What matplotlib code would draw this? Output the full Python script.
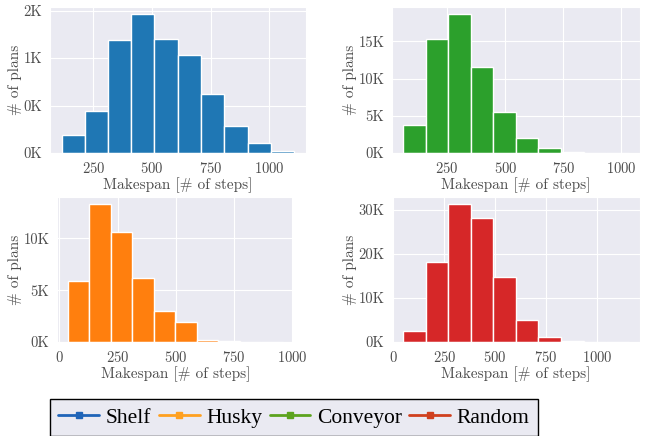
import numpy as np
import matplotlib
matplotlib.use("Agg")
import matplotlib.pyplot as plt
import seaborn as sns
from matplotlib.lines import Line2D
from matplotlib.ticker import MultipleLocator, FuncFormatter

sns.set_style("darkgrid")
plt.rcParams["font.family"] = "serif"
plt.rcParams["font.serif"] = ["cmr10"]
plt.rcParams["mathtext.fontset"] = "cm"
plt.rcParams["axes.formatter.use_mathtext"] = True
plt.rcParams["text.color"] = "0.3"
plt.rcParams["axes.labelcolor"] = "0.3"
plt.rcParams["xtick.color"] = "0.3"
plt.rcParams["ytick.color"] = "0.3"

# bin edges and counts
shelf_edges = [114, 213, 312, 411, 510, 609, 709, 808, 907, 1006, 1105]
shelf_counts = [187, 444, 1187, 1465, 1204, 1028, 627, 282, 106, 21]

conveyor_edges = [61, 158, 255, 352, 449, 546, 643, 740, 837, 934, 1031]
conveyor_counts = [3785, 15360, 18700, 11576, 5565, 2003, 668, 80, 15, 5]

husky_edges = [36, 128, 221, 313, 406, 498, 590, 683, 775, 868, 960]
husky_counts = [5847, 13355, 10671, 6134, 2971, 1949, 150, 50, 10, 5]

random_edges = [49, 160, 270, 381, 492, 602, 713, 824, 935, 1045, 1156]
random_counts = [2550, 18150, 31350, 28130, 14700, 5100, 1050, 150, 30, 10]

c_blue = "#1f77b4"
c_green = "#2ca02c"
c_orange = "#ff7f0e"
c_red = "#d62728"

panels = [
    (shelf_edges, shelf_counts, c_blue, [0.077, 0.649, 0.394, 0.335], 500),
    (conveyor_edges, conveyor_counts, c_green, [0.604, 0.649, 0.382, 0.335], 5000),
    (husky_edges, husky_counts, c_orange, [0.088, 0.2156, 0.364, 0.333], 5000),
    (random_edges, random_counts, c_red, [0.604, 0.2156, 0.382, 0.333], 10000),
]

fig = plt.figure(figsize=(6.49, 4.36), dpi=100)

for edges, counts, color, pos, ystep in panels:
    ax = fig.add_axes(pos)
    ax.hist(edges[:-1], bins=edges, weights=counts, color=color,
            edgecolor="white", linewidth=1)
    ax.xaxis.set_major_locator(MultipleLocator(250))
    ax.yaxis.set_major_locator(MultipleLocator(ystep))
    ax.yaxis.set_major_formatter(FuncFormatter(lambda v, p: f"{v/1000:.0f}K"))
    ax.tick_params(labelsize=10.5, pad=2)
    ax.set_xlabel("Makespan [# of steps]", fontsize=11, labelpad=1)
    ax.set_ylabel("# of plans", fontsize=11, labelpad=1)

leg_labels = ["Shelf", "Husky", "Conveyor", "Random"]
leg_colors = ["#1f64b8", "#ffa020", "#5ca31e", "#d0401e"]
handles = [Line2D([], [], color=c, lw=2, marker="s", markersize=5) for c in leg_colors]
leg = fig.legend(handles, leg_labels, loc="lower center", ncol=4,
                 bbox_to_anchor=(0.453, -0.025), frameon=True, fancybox=False,
                 edgecolor="black", framealpha=1, labelcolor="black",
                 prop={"family": "Liberation Serif", "size": 15.5},
                 handlelength=1.9, handletextpad=0.3, columnspacing=0.35,
                 borderpad=0.4)
leg.get_frame().set_linewidth(1.0)

fig.savefig("out.png", dpi=100)
